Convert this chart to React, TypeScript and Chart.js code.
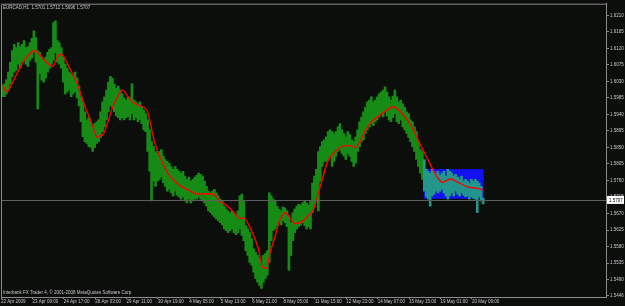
import React, { useEffect, useRef } from 'react';
import { Chart, registerables } from 'chart.js';

Chart.register(...registerables);

const HEADER_TEXT = 'EURCAD,H1  1.5701 1.5712 1.5696 1.5707';
const FOOTER_TEXT = 'Interbank FX Trader 4, \u00A9 2001-2008 MetaQuotes Software Corp.';

// price values are stored in pips (price * 10000)
const PIP_SCALE = 10000;
const FIRST_BAR_HOUR = 1.5;
const BAR_STEP_HOURS = 2;

const HIGHS = [
  16020, 16023, 16034, 16055, 16082, 16114, 16131, 16122, 16136, 16125,
  16131, 16141, 16122, 16125, 16136, 16147, 16168, 16150, 16114, 16109,
  16096, 16087, 16096, 16109, 16117, 16122, 16190, 16195, 16141, 16136,
  16122, 16096, 16077, 16066, 16055, 16050, 16044, 16055, 16039, 16017,
  15988, 15974, 15947, 15925, 15931, 15920, 15907, 15915, 15920, 15925,
  15947, 15974, 15988, 16006, 16028, 16044, 16039, 16023, 16012, 16017,
  16006, 15996, 15985, 15979, 15988, 15985, 16023, 15979, 15974, 15969,
  15974, 15963, 15952, 15942, 15925, 15898, 15866, 15852, 15839, 15834,
  15839, 15844, 15826, 15817, 15812, 15807, 15798, 15790, 15798, 15790,
  15785, 15780, 15785, 15772, 15763, 15769, 15758, 15763, 15769, 15774,
  15780, 15777, 15772, 15758, 15744, 15731, 15726, 15731, 15736, 15726,
  15718, 15709, 15704, 15690, 15682, 15677, 15672, 15677, 15672, 15664,
  15677, 15718, 15723, 15704, 15637, 15628, 15618, 15601, 15574, 15564,
  15556, 15547, 15537, 15556, 15561, 15569, 15726, 15718, 15709, 15704,
  15690, 15682, 15677, 15688, 15685, 15677, 15664, 15645, 15672, 15682,
  15690, 15696, 15693, 15699, 15704, 15699, 15693, 15704, 15753, 15772,
  15790, 15839, 15852, 15866, 15871, 15879, 15893, 15898, 15893, 15888,
  15893, 15906, 15915, 15898, 15888, 15879, 15893, 15885, 15871, 15866,
  15879, 15898, 15920, 15933, 15947, 15960, 15974, 15979, 15988, 15974,
  15979, 15988, 15996, 16001, 16006, 16015, 16001, 15988, 15979, 15990,
  16006, 15988, 15974, 15979, 15969, 15960, 15947, 15942, 15925, 15920,
  15906, 15893, 15866, 15844, 15839, 15817, 15790, 15785, 15780, 15790,
  15785, 15780, 15785, 15774, 15780, 15785, 15772, 15790, 15785, 15780,
  15772, 15777, 15769, 15763, 15772, 15758, 15763, 15758, 15753, 15763,
  15758, 15763, 15758, 15753, 15744, 15712,
];

const LOWS = [
  15988, 15988, 15996, 16006, 16023, 16042, 16055, 16060, 16077, 16066,
  16082, 16087, 16077, 16071, 16087, 16093, 16109, 16082, 15955, 16050,
  16033, 16028, 16039, 16055, 16066, 16077, 16087, 16109, 16082, 16077,
  16066, 16028, 15996, 16001, 16006, 15988, 15996, 16001, 15985, 15963,
  15920, 15879, 15866, 15861, 15852, 15850, 15839, 15850, 15861, 15866,
  15877, 15893, 15906, 15925, 15947, 15963, 15960, 15947, 15936, 15931,
  15925, 15931, 15925, 15931, 15934, 15925, 15942, 15925, 15931, 15920,
  15925, 15915, 15898, 15893, 15839, 15785, 15704, 15758, 15744, 15758,
  15763, 15769, 15753, 15744, 15731, 15736, 15726, 15718, 15731, 15720,
  15715, 15709, 15715, 15704, 15699, 15709, 15699, 15704, 15709, 15709,
  15715, 15709, 15704, 15699, 15690, 15677, 15672, 15666, 15661, 15655,
  15650, 15645, 15639, 15628, 15623, 15618, 15623, 15628, 15618, 15612,
  15618, 15628, 15610, 15596, 15569, 15556, 15537, 15529, 15510, 15493,
  15483, 15474, 15466, 15483, 15493, 15502, 15537, 15596, 15623, 15628,
  15637, 15645, 15639, 15650, 15645, 15634, 15515, 15556, 15596, 15618,
  15628, 15634, 15639, 15645, 15637, 15628, 15634, 15628, 15672, 15690,
  15704, 15677, 15758, 15798, 15812, 15812, 15817, 15826, 15798, 15812,
  15826, 15839, 15844, 15834, 15826, 15817, 15834, 15826, 15812, 15798,
  15807, 15839, 15852, 15866, 15871, 15888, 15898, 15906, 15915, 15909,
  15920, 15925, 15933, 15942, 15933, 15947, 15936, 15925, 15920, 15931,
  15942, 15920, 15915, 15925, 15906, 15898, 15888, 15877, 15866, 15852,
  15839, 15817, 15798, 15780, 15763, 15731, 15715, 15709, 15690, 15718,
  15723, 15731, 15726, 15731, 15736, 15726, 15718, 15709, 15718, 15726,
  15718, 15731, 15723, 15718, 15726, 15720, 15715, 15718, 15709, 15715,
  15712, 15709, 15672, 15715, 15704, 15696,
];

const MA_HOURS = [
  2, 6, 11, 17, 24, 29, 34, 39, 44, 50,
  53, 57, 60, 63, 67, 72, 77, 80, 85, 91,
  96, 98, 101, 104, 109, 114, 119, 124, 129, 134,
  142, 149, 152, 155, 159, 164, 170, 177, 185, 193,
  200, 208, 215, 219, 223, 228, 236, 244, 247, 254,
  262, 267, 271, 274, 279, 284, 290, 295, 300, 308,
  313, 318, 325, 333, 341, 348, 356, 361, 366, 371,
  376, 384, 391, 400, 407, 414, 420, 425, 430, 435,
  440, 446, 450, 458, 466, 476, 485, 491,
];

const MA_VALUES = [
  16020, 16001, 16023, 16055, 16088, 16104, 16114, 16104, 16088, 16074,
  16071, 16093, 16104, 16101, 16082, 16055, 16028, 16006, 15966, 15926,
  15888, 15877, 15882, 15885, 15920, 15961, 15990, 16006, 15990, 15974,
  15963, 15950, 15920, 15880, 15844, 15812, 15780, 15758, 15742, 15731,
  15723, 15723, 15723, 15718, 15702, 15696, 15677, 15656, 15658, 15631,
  15577, 15523, 15521, 15561, 15604, 15650, 15672, 15656, 15642, 15650,
  15664, 15677, 15739, 15812, 15839, 15853, 15855, 15850, 15866, 15893,
  15915, 15934, 15947, 15961, 15947, 15926, 15899, 15872, 15844, 15818,
  15791, 15764, 15755, 15764, 15755, 15742, 15739, 15734,
];

const X_TICK_HOURS = [0, 32, 64, 96, 128, 160, 192, 224, 256, 288, 320, 352, 384, 416, 448, 480];
const X_TICK_LABELS = [
  '22 Apr 2009', '23 Apr 09:00', '24 Apr 17:00', '28 Apr 03:00', '29 Apr 11:00',
  '30 Apr 19:00', '4 May 05:00', '5 May 13:00', '6 May 21:00', '8 May 05:00',
  '11 May 15:00', '12 May 23:00', '14 May 07:00', '15 May 15:00', '19 May 01:00',
  '20 May 09:00',
];

const Y_TICKS = [
  1.621, 1.6165, 1.612, 1.6075, 1.603, 1.5985, 1.594, 1.5895, 1.585,
  1.5805, 1.576, 1.5715, 1.567, 1.5625, 1.558, 1.5535, 1.549, 1.5446,
];

const CURRENT_PRICE = 1.5707;
const RECT_START_HOUR = 431;
const RECT_END_HOUR = 492;
const RECT_TOP = 1.5791;
const RECT_BOTTOM = 1.571;

const X_MIN = 0;
const X_MAX = 616.7;
const Y_MIN = 1.54425;
const Y_MAX = 1.62416;

const FONT_FAMILY = '"Liberation Sans", Arial, sans-serif';
const FONT_SIZE = 4.5;
const BG = '#0c0e0c';
const AXIS_COLOR = '#8c8c8c';
const TEXT_COLOR = '#c8c8c8';
const BAR_GREEN = '#168c16';
const BAR_TEAL = 'rgb(34,150,140)';
const RECT_BLUE = '#1212f0';

const mt4Plugin = {
  id: 'mt4',
  beforeDraw(chart: any) {
    const { ctx, width, height } = chart;
    ctx.save();
    ctx.fillStyle = BG;
    ctx.fillRect(0, 0, width, height);
    ctx.restore();
  },
  beforeDatasetsDraw(chart: any) {
    const { ctx, scales } = chart;
    const x0 = scales.x.getPixelForValue(RECT_START_HOUR);
    const x1 = scales.x.getPixelForValue(RECT_END_HOUR);
    const y0 = scales.y.getPixelForValue(RECT_TOP);
    const y1 = scales.y.getPixelForValue(RECT_BOTTOM);
    ctx.save();
    ctx.fillStyle = RECT_BLUE;
    ctx.fillRect(x0, y0, x1 - x0, y1 - y0);
    ctx.restore();
  },
  afterDatasetsDraw(chart: any) {
    const { ctx, scales, chartArea } = chart;
    const y = Math.round(scales.y.getPixelForValue(CURRENT_PRICE)) + 0.5;
    ctx.save();
    ctx.strokeStyle = '#5e5e5e';
    ctx.lineWidth = 1;
    ctx.beginPath();
    ctx.moveTo(chartArea.left, y);
    ctx.lineTo(chartArea.right, y);
    ctx.stroke();
    ctx.restore();
  },
  afterDraw(chart: any) {
    const { ctx, scales, chartArea } = chart;
    ctx.save();
    // frame (left + top)
    ctx.strokeStyle = AXIS_COLOR;
    ctx.lineWidth = 1;
    ctx.beginPath();
    ctx.moveTo(chartArea.left + 0.5, chartArea.bottom);
    ctx.lineTo(chartArea.left + 0.5, chartArea.top + 0.5);
    ctx.lineTo(chartArea.right, chartArea.top + 0.5);
    ctx.stroke();
    // header + footer
    ctx.font = `${FONT_SIZE}px ${FONT_FAMILY}`;
    ctx.fillStyle = TEXT_COLOR;
    ctx.textBaseline = 'middle';
    ctx.textAlign = 'left';
    ctx.fillText(HEADER_TEXT, chartArea.left + 2, chartArea.top + 4.5);
    ctx.fillText(FOOTER_TEXT, chartArea.left + 2, chartArea.bottom - 4);
    // current price box
    const y = scales.y.getPixelForValue(CURRENT_PRICE);
    ctx.fillStyle = '#ffffff';
    ctx.fillRect(chartArea.right + 1, y - 4, 17, 8);
    ctx.fillStyle = '#000000';
    ctx.fillText(CURRENT_PRICE.toFixed(4), chartArea.right + 3, y + 0.5);
    ctx.restore();
  },
};

export default function App() {
  const ref = useRef<HTMLCanvasElement | null>(null);

  useEffect(() => {
    document.body.style.margin = '0';
    const canvas = ref.current;
    if (!canvas) return;

    const bars = HIGHS.map((hi, i) => ({
      x: FIRST_BAR_HOUR + i * BAR_STEP_HOURS,
      y: [LOWS[i] / PIP_SCALE, hi / PIP_SCALE],
    }));
    const ma = MA_HOURS.map((h, i) => ({ x: h, y: MA_VALUES[i] / PIP_SCALE }));

    const chart = new Chart(canvas, {
      type: 'bar',
      data: {
        datasets: [
          {
            type: 'line',
            data: ma as any,
            borderColor: '#ff0000',
            borderWidth: 1.4,
            pointRadius: 0,
            cubicInterpolationMode: 'monotone',
            order: 1,
          } as any,
          {
            type: 'bar',
            data: bars as any,
            backgroundColor: (c: any) => {
              const x = c.raw ? c.raw.x : 0;
              return x >= RECT_START_HOUR && x <= RECT_END_HOUR ? BAR_TEAL : BAR_GREEN;
            },
            borderWidth: 0,
            barPercentage: 1,
            categoryPercentage: 1,
            order: 2,
          } as any,
        ],
      },
      options: {
        responsive: false,
        animation: false,
        devicePixelRatio: 1,
        layout: { padding: { left: 1, top: 1, right: 0, bottom: 0 } },
        plugins: {
          legend: { display: false },
          tooltip: { enabled: false },
        },
        scales: {
          x: {
            type: 'linear',
            min: X_MIN,
            max: X_MAX,
            offset: false,
            grid: { drawOnChartArea: false, offset: false, tickLength: 2, color: AXIS_COLOR },
            border: { color: AXIS_COLOR },
            ticks: {
              autoSkip: false,
              maxRotation: 0,
              minRotation: 0,
              align: 'start',
              padding: 0,
              color: TEXT_COLOR,
              font: { family: FONT_FAMILY, size: FONT_SIZE },
              callback: (_v: any, i: number) => X_TICK_LABELS[i] ?? '',
            },
            afterBuildTicks: (s: any) => {
              s.ticks = X_TICK_HOURS.map((v) => ({ value: v }));
            },
            afterFit: (s: any) => {
              s.height = 9;
            },
          },
          y: {
            type: 'linear',
            position: 'right',
            min: Y_MIN,
            max: Y_MAX,
            grid: { drawOnChartArea: false, tickLength: 3, color: AXIS_COLOR },
            border: { color: AXIS_COLOR },
            ticks: {
              autoSkip: false,
              padding: 1,
              color: TEXT_COLOR,
              font: { family: FONT_FAMILY, size: FONT_SIZE },
              callback: (v: any) => Number(v).toFixed(4),
            },
            afterBuildTicks: (s: any) => {
              s.ticks = Y_TICKS.map((v) => ({ value: v }));
            },
            afterFit: (s: any) => {
              s.width = 19;
            },
          },
        },
      } as any,
      plugins: [mt4Plugin],
    });

    return () => chart.destroy();
  }, []);

  return (
    <div style={{ position: 'fixed', left: 0, top: 0, width: 625, height: 306, background: BG }}>
      <canvas ref={ref} width={625} height={306} style={{ display: 'block', width: 625, height: 306 }} />
    </div>
  );
}
